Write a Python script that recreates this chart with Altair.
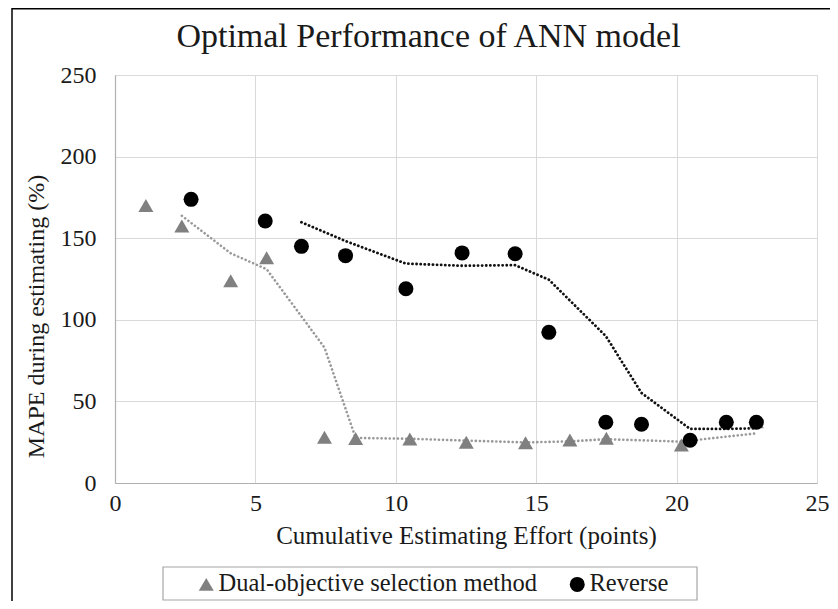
import altair as alt
import pandas as pd

title_text = "Optimal Performance of ANN model"
x_title = "Cumulative Estimating Effort (points)"
y_title = "MAPE during estimating (%)"
series_names = ["Dual-objective selection method", "Reverse"]

dual_x = [1.10, 2.38, 4.12, 5.40, 7.46, 8.57, 10.50, 12.51, 14.62, 16.20, 17.50, 20.17, 22.84]
dual_y = [170.0, 157.5, 124.0, 138.0, 28.0, 27.2, 27.0, 25.0, 24.7, 26.3, 27.4, 23.3, 37.5]

rev_x = [2.71, 5.35, 6.64, 8.21, 10.36, 12.36, 14.25, 15.45, 17.48, 18.75, 20.48, 21.77, 22.84]
rev_y = [173.8, 160.5, 145.0, 139.3, 119.0, 141.0, 140.5, 92.3, 37.2, 36.0, 26.2, 37.2, 37.2]

x_ticks = [0, 5, 10, 15, 20, 25]
y_ticks = [0, 50, 100, 150, 200, 250]

df = pd.DataFrame({
    "series": [series_names[0]] * len(dual_x) + [series_names[1]] * len(rev_x),
    "x": dual_x + rev_x,
    "y": dual_y + rev_y,
})

FONT = "Liberation Serif"
TXT = "#1a1a1a"
W, H = 702, 408
PL = 107  # left padding: plot starts at page x = 8 + PL

xs = alt.Scale(domain=[0, 25], nice=False, zero=False)
ys = alt.Scale(domain=[0, 250], nice=False)

x_axis = alt.Axis(values=x_ticks, title=x_title, grid=True, gridColor="#d9d9d9",
                  domainColor="#b0b0b0", domainWidth=1.2, ticks=False,
                  labelFont=FONT, labelFontSize=24, labelColor=TXT, labelPadding=8,
                  labelFlush=False, labelOverlap=False,
                  titleFont=FONT, titleFontSize=25, titleFontWeight="normal",
                  titleColor=TXT, titleBaseline="alphabetic", titleY=60)
y_axis = alt.Axis(values=y_ticks, title=y_title, grid=True, gridColor="#d9d9d9",
                  domainColor="#b0b0b0", domainWidth=1.2, ticks=False,
                  labelFont=FONT, labelFontSize=24, labelColor=TXT, labelPadding=19,
                  labelFlush=False, labelOverlap=False,
                  titleFont=FONT, titleFontSize=24, titleFontWeight="normal",
                  titleColor=TXT, titleAngle=270, titleAlign="center",
                  titleBaseline="alphabetic", titleX=-72, titleY=241)

legend = alt.Legend(title=None, orient="none", legendX=79, legendY=497,
                    direction="horizontal", symbolSize=225, symbolStrokeWidth=0,
                    symbolOpacity=1, labelFont=FONT, labelFontSize=24.5,
                    labelColor=TXT, labelOffset=0, columnPadding=28, padding=0,
                    labelLimit=1000)

points = alt.Chart(df).mark_point(filled=True, opacity=1, size=225).encode(
    x=alt.X("x:Q", scale=xs, axis=x_axis),
    y=alt.Y("y:Q", scale=ys, axis=y_axis),
    color=alt.Color("series:N", scale=alt.Scale(domain=series_names, range=["#808080", "#000000"]), legend=legend),
    shape=alt.Shape("series:N", scale=alt.Scale(domain=series_names, range=["triangle-up", "circle"]), legend=legend),
)

dual_line = alt.Chart(df).transform_filter(
    alt.datum.series == series_names[0]
).transform_window(
    ma="mean(y)", n="count()", sort=[alt.SortField("x")], frame=[-1, 0]
).transform_filter("datum.n == 2").mark_line(
    color="#999999", strokeWidth=2.6, strokeDash=[0.1, 4.0], strokeCap="round"
).encode(x=alt.X("x:Q", scale=xs), y=alt.Y("ma:Q", scale=ys), order="x:Q")

rev_line = alt.Chart(df).transform_filter(
    alt.datum.series == series_names[1]
).transform_window(
    ma="mean(y)", n="count()", sort=[alt.SortField("x")], frame=[-2, 0]
).transform_filter("datum.n == 3").mark_line(
    color="#111111", strokeWidth=2.8, strokeDash=[0.1, 4.0], strokeCap="round"
).encode(x=alt.X("x:Q", scale=xs), y=alt.Y("ma:Q", scale=ys), order="x:Q")

one = alt.Data(values=[{"t": title_text}])
box = alt.Chart(one).mark_rect(fill="white", stroke="#a6a6a6", strokeWidth=1.2).encode(
    x=alt.value(48), x2=alt.value(582), y=alt.value(492), y2=alt.value(525))
frame_left = alt.Chart(one).mark_rule(color="#000000", strokeWidth=1.5).encode(
    x=alt.value(-103), y=alt.value(-67), y2=alt.value(526))
frame_top = alt.Chart(one).mark_rule(color="#000000", strokeWidth=1.5).encode(
    y=alt.value(-66.2), x=alt.value(-103), x2=alt.value(716))
title = alt.Chart(one).mark_text(font=FONT, fontSize=34, color=TXT, align="center",
                                 baseline="alphabetic").encode(
    text="t:N", x=alt.value(313.5), y=alt.value(-28.3))

chart = alt.layer(frame_left, frame_top, box, title, dual_line, rev_line, points).properties(
    width=W, height=H,
    autosize=alt.AutoSizeParams(type="none"),
    padding={"left": PL, "top": 67, "right": 13, "bottom": 118},
).configure_view(strokeWidth=0).configure(background="white")

chart.save("out.html", embed_options={"renderer": "svg", "actions": False})
